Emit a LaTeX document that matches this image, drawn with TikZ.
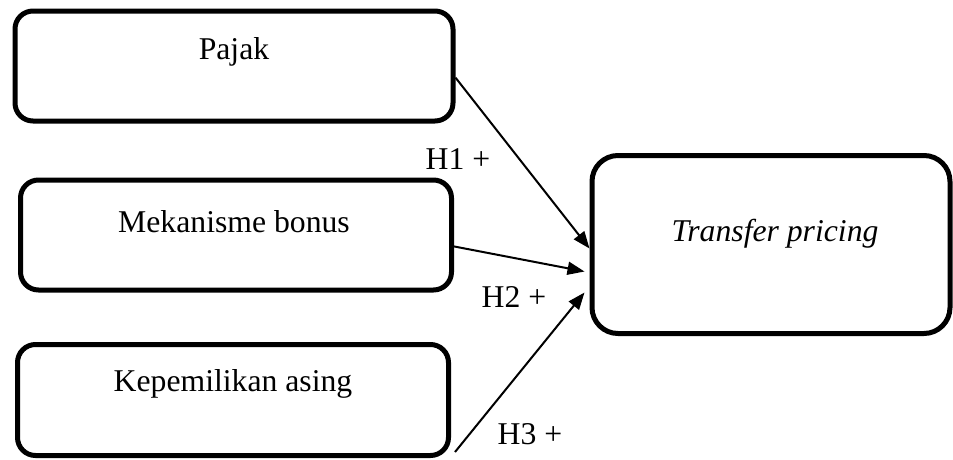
\documentclass[tikz,border=0pt]{standalone}
\usepackage{fontspec}
\setmainfont{Liberation Serif}
\usetikzlibrary{arrows.meta}
\tikzset{
  kotak/.style={draw, line width=5pt, rounded corners=18pt, inner sep=0pt},
  panah/.style={-{Triangle[length=17pt,width=13pt]}, line width=2pt}
}

\begin{document}
\begin{tikzpicture}[x=1pt,y=-1pt,font=\fontsize{31.7}{38}\selectfont]
            \useasboundingbox (0,0) rectangle (953,459);
            \node[kotak, minimum width=438pt, minimum height=110pt] (pajak) at (234,66) {};
            \node (pajakteks) at (234,52) {Pajak};
            \node[kotak, minimum width=431pt, minimum height=110pt] (bonus) at (236,235) {};
            \node (bonusteks) at (234,222) {Mekanisme bonus};
            \node[kotak, minimum width=431pt, minimum height=111pt] (asing) at (233,400) {};
            \node (asingteks) at (233,384) {Kepemilikan asing};
            \node[kotak, rounded corners=26pt, minimum width=358pt, minimum height=178pt] (tp) at (771,244.5) {};
            \node (tpteks) at (775,234) {\itshape Transfer pricing};
            \draw[panah] (pajak.-3.7) -- ([yshift=-4pt]tp.west);
            \draw[panah] (bonus.-3.1) -- ([xshift=-5pt,yshift=-27pt]tp.west);
            \draw[panah] ([xshift=4pt,yshift=6pt]asing.south east) -- ([xshift=-5pt,yshift=-48pt]tp.west);
            \node (h1) at (458,159) {H1 +};
            \node (h2) at (514,297) {H2 +};
            \node (h3) at (530,434) {H3 +};
        \end{tikzpicture}
\end{document}
